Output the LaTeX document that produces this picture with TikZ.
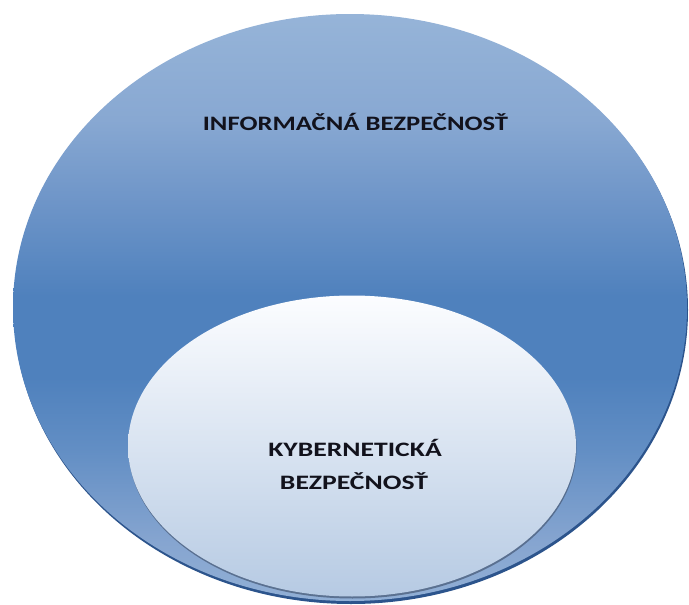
\documentclass[tikz,border=0pt]{standalone}
\usepackage{fontspec}
\setmainfont{Carlito}
\definecolor{outtop}{RGB}{150,180,216}
\definecolor{outup}{RGB}{136,168,210}
\definecolor{outupmid}{RGB}{110,149,200}
\definecolor{outmid}{RGB}{79,129,189}
\definecolor{outlowmid}{RGB}{98,142,196}
\definecolor{outlow}{RGB}{134,165,208}
\definecolor{outbot}{RGB}{145,175,213}
\definecolor{outedge}{RGB}{44,84,140}
\definecolor{intop}{RGB}{252,253,255}
\definecolor{inbot}{RGB}{182,202,227}
\definecolor{inedge}{RGB}{78,98,128}
\definecolor{ink}{RGB}{18,18,28}
% vertical shading for the large set, darkest band just below its middle
\pgfdeclareverticalshading{outerset}{100bp}{
  color(0bp)=(outbot); color(25bp)=(outbot); color(30bp)=(outlow);
  color(38bp)=(outlowmid); color(44bp)=(outmid); color(51bp)=(outmid);
  color(59bp)=(outupmid); color(66bp)=(outup); color(75bp)=(outtop);
  color(100bp)=(outtop)}
\tikzset{
  label/.style={font=\bfseries\fontsize{20.5}{24}\selectfont, text=ink, inner sep=0pt, anchor=base},
}
\begin{document}
\begin{tikzpicture}[x=1pt,y=-1pt]
\useasboundingbox (0,0) rectangle (689,605);
\fill[white] (0,0) rectangle (689,605);
% outer set: shadow rim, then shaded body
\fill[outedge] (351,310) ellipse [x radius=337, y radius=294];
\shade[shading=outerset]
  (350,307.5) ellipse [x radius=337, y radius=293.5];
\node[label] (info) at (355.5,130) {\scalebox{1.3}[1]{INFORMAČNÁ BEZPEČNOSŤ}};
% inner set: shadow rim, then shaded body
\fill[inedge, opacity=0.8] (352.5,448) ellipse [x radius=224, y radius=150.5];
\shade[top color=intop, bottom color=inbot]
  (352,446) ellipse [x radius=224, y radius=150.5];
\node[label] (kyber1) at (355,456) {\scalebox{1.35}[1]{KYBERNETICKÁ}};
\node[label] (kyber2) at (354,489) {\scalebox{1.35}[1]{BEZPEČNOSŤ}};
\end{tikzpicture}
\end{document}
